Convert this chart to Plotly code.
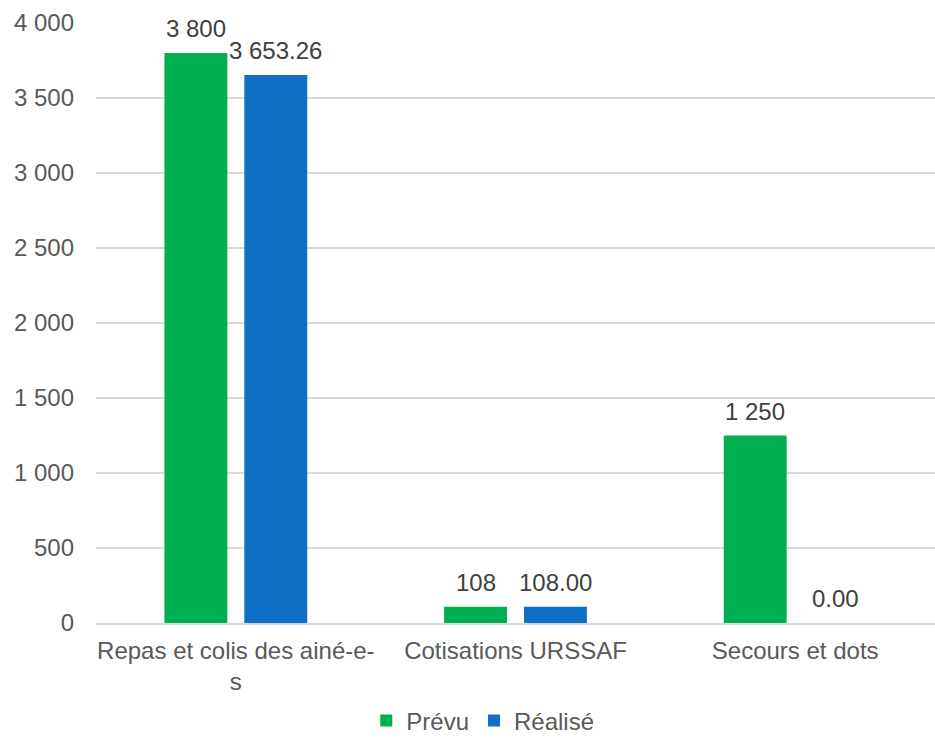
import plotly.graph_objects as go

categories = ["Repas et colis des ainé-e-<br>s", "Cotisations URSSAF", "Secours et dots"]
prevu = [3800, 108, 1250]
realise = [3653.26, 108.00, 0.00]
y_ticks = [0, 500, 1000, 1500, 2000, 2500, 3000, 3500, 4000]

FONT = "Liberation Sans, Arial, sans-serif"
LABEL_FONT = dict(family=FONT, size=24, color="#404040")

fig = go.Figure()
fig.add_trace(go.Bar(
    name="Prévu", x=categories, y=prevu,
    marker=dict(color="#00B050", line=dict(width=0)),
))
fig.add_trace(go.Bar(
    name="Réalisé", x=categories, y=realise,
    marker=dict(color="#0F6FC6", line=dict(width=0)),
))

annotations = []
for cat, v in zip(categories, prevu):
    annotations.append(dict(x=cat, y=v, xref="x", yref="y", text=f"{v:,.0f}".replace(",", " "),
                            showarrow=False, yanchor="bottom", xanchor="center",
                            xshift=-40, yshift=9, font=LABEL_FONT))
for cat, v in zip(categories, realise):
    annotations.append(dict(x=cat, y=v, xref="x", yref="y", text=f"{v:,.2f}".replace(",", " "),
                            showarrow=False, yanchor="bottom", xanchor="center",
                            xshift=40, yshift=9, font=LABEL_FONT))

fig.update_layout(
    width=935, height=738,
    margin=dict(l=96, r=0, t=23, b=115, autoexpand=False),
    paper_bgcolor="white", plot_bgcolor="white",
    separators=". ",
    barmode="group", bargap=0.4286, bargroupgap=0.2125,
    font=dict(family=FONT, size=24, color="#595959"),
    showlegend=True,
    annotations=annotations,
    legend=dict(orientation="h", x=0.461, xanchor="center", y=-0.163, yanchor="middle",
                font=dict(family=FONT, size=24, color="#595959"),
                itemwidth=30, tracegroupgap=0),
    xaxis=dict(showgrid=False, showline=True, linecolor="#d9d9d9", linewidth=1.5,
               ticks="", tickfont=dict(size=24, color="#595959"), ticklabelstandoff=5,
               automargin=False),
    yaxis=dict(range=[0, 4000], tickvals=y_ticks, tickformat=",d",
               showgrid=True, gridcolor="#d9d9d9", gridwidth=1.5,
               zeroline=False, showline=False, ticks="",
               tickfont=dict(size=24, color="#595959"), ticklabelstandoff=21,
               automargin=False),
)

fig.write_html("out.html", config={"displayModeBar": False},
               post_script="document.body.style.margin='0';")
